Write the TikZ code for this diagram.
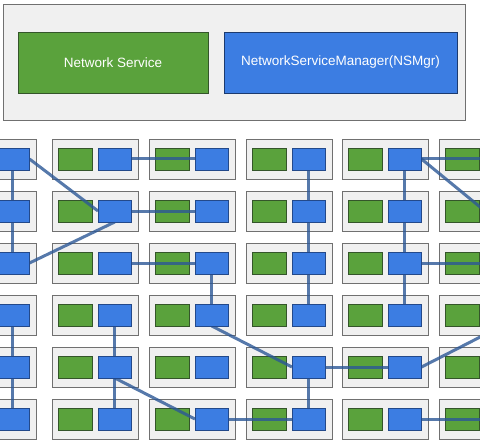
\documentclass[tikz,border=0pt]{standalone}
\usepackage{fontspec}
\setmainfont{Liberation Sans}
\pgfdeclarelayer{cells}
\pgfdeclarelayer{links}
\pgfsetlayers{cells,links,main}
\definecolor{nsgreen}{HTML}{5AA23C}
\definecolor{nsblue}{HTML}{3C7DE2}
\definecolor{linkc}{HTML}{2C5896}
\definecolor{cellbg}{HTML}{F0F0F0}
\definecolor{cellbd}{HTML}{707070}
\definecolor{greenbd}{HTML}{34552A}
\definecolor{bluebd}{HTML}{23498A}
\tikzset{
  legendbg/.style={draw=cellbd, line width=0.9pt, fill=cellbg, anchor=north west, inner sep=0pt, outer sep=0pt},
  legendbox/.style={line width=0.9pt, anchor=north west, inner sep=0pt, outer sep=0pt, text=white, font=\fontsize{13.5}{15}\selectfont},
  cellbox/.style={draw=cellbd, line width=0.9pt, fill=cellbg, anchor=north west, minimum width=86pt, minimum height=40pt, inner sep=0pt, outer sep=0pt},
  nsrect/.style={draw=greenbd, line width=0.7pt, fill=nsgreen, anchor=north west, minimum width=33.5pt, minimum height=22pt, inner sep=0pt, outer sep=0pt},
  mgrrect/.style={draw=bluebd, line width=0.7pt, fill=nsblue, anchor=north west, minimum width=33.5pt, minimum height=22pt, inner sep=0pt, outer sep=0pt},
  link/.style={draw=linkc, line width=3pt, opacity=0.8}
}
\begin{document}
\begin{tikzpicture}[x=1pt,y=-1pt]
\useasboundingbox (0,0) rectangle (480,444);
\clip (0,0) rectangle (480,444);
\begin{pgfonlayer}{cells}
\fill[white] (0,0) rectangle (480,444);
\node[legendbg, minimum width=462pt, minimum height=116pt] (legend) at (3,4) {};
\node[legendbox, draw=greenbd, fill=nsgreen, minimum width=190pt, minimum height=61pt] (lgreen) at (18,32) {Network Service};
\node[legendbox, draw=bluebd!80!black, fill=nsblue, minimum width=233pt, minimum height=61pt] (lblue) at (224,32) {NetworkServiceManager(NSMgr)};
\end{pgfonlayer}
\foreach \L [count=\i from 0] in {-50,52,149,246,342,439} {
  \foreach \T [count=\j from 0] in {139,191,243,295,347,399} {
    \begin{pgfonlayer}{cells}
      \node[cellbox] (c\j\i) at (\L,\T) {};
      \node[nsrect] (g\j\i) at (\L+6.5,\T+9) {};
    \end{pgfonlayer}
    \node[mgrrect] (b\j\i) at (\L+46,\T+9) {};
  }
}
\begin{pgfonlayer}{links}
\draw[link] (b00) -- (b10);
\draw[link] (b10) -- (b20);
\draw[link] (b00.east) -- (b11.west);
\draw[link] (b20.east) -- (b11.south);
\draw[link] (b01) -- (b02);
\draw[link] (b11) -- (b12);
\draw[link] (b21) -- (b22);
\draw[link] (b22) -- (b32);
\draw[link] (b03) -- (b13);
\draw[link] (b13) -- (b23);
\draw[link] (b23) -- (b33);
\draw[link] (b04) -- (b14);
\draw[link] (b14) -- (b24);
\draw[link] (b24) -- (b34);
\draw[link] (b04) -- (b05);
\draw[link] (b04.east) -- (b15.west);
\draw[link] (b24) -- (b25);
\draw[link] (b30) -- (b40);
\draw[link] (b40) -- (b50);
\draw[link] (b31) -- (b41);
\draw[link] (b41) -- (b51);
\draw[link] (b32.south) -- (b43.west);
\draw[link] (b41.south) -- (b52.west);
\draw[link] (b52) -- (b53);
\draw[link] (b43) -- (b44);
\draw[link] (b43) -- (b53);
\draw[link] (b44.east) -- (b35.south);
\draw[link] (b54) -- (b55);
\end{pgfonlayer}
\end{tikzpicture}
\end{document}
